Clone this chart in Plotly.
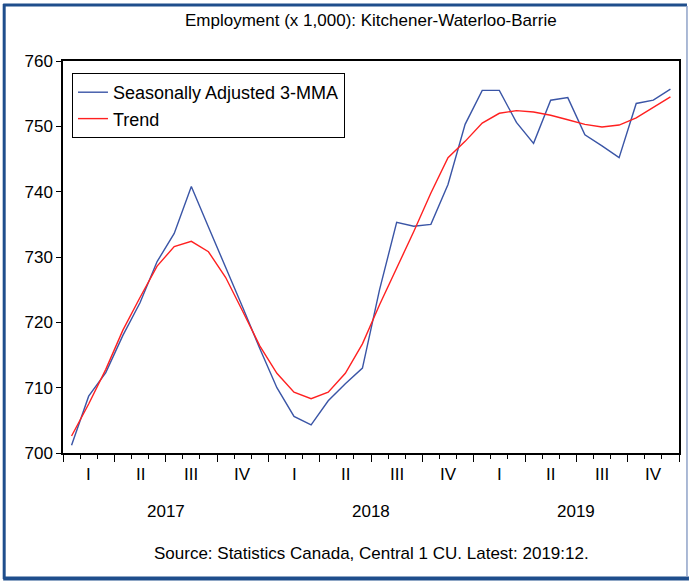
import plotly.graph_objects as go

# monthly data, 2017:01 - 2019:12 (x 1,000)
months = list(range(36))
sa_3mma = [701.2, 708.7, 712.3, 718.0, 723.0, 729.3, 733.6, 740.8, 734.6, 728.5,
           722.3, 716.0, 710.0, 705.6, 704.3, 708.0, 710.6, 713.0, 725.0, 735.3,
           734.7, 735.0, 741.1, 750.3, 755.5, 755.5, 750.6, 747.4, 754.0, 754.4,
           748.7, 747.0, 745.2, 753.5, 754.0, 755.7]
trend = [702.6, 707.5, 712.8, 718.8, 723.8, 728.6, 731.6, 732.4, 730.8, 726.9,
         721.7, 716.4, 712.2, 709.3, 708.3, 709.3, 712.2, 716.7, 722.7, 728.3,
         733.9, 739.8, 745.2, 747.7, 750.5, 752.0, 752.4, 752.2, 751.7, 751.0,
         750.3, 749.9, 750.2, 751.3, 752.9, 754.5]

quarter_labels = ['I', 'II', 'III', 'IV'] * 3
quarter_pos = [1.5 + 3 * i for i in range(12)]
year_labels = ['2017', '2018', '2019']
year_pos = [6, 18, 30]

W, H = 691, 581
ML, MR, MT, MB = 63, 10, 61, 128
PW, PH = W - ML - MR, H - MT - MB

font = 'Liberation Sans, Arial, sans-serif'
x_mid = [m + 0.5 for m in months]


# pixel -> paper coordinates
def px_x(v):
    return (v - ML) / PW


def px_y(v):
    return ((MT + PH) - v) / PH


fig = go.Figure()
fig.add_trace(go.Scatter(x=x_mid, y=sa_3mma, mode='lines', name='Seasonally Adjusted 3-MMA',
                         line=dict(color='#3A55A6', width=1.4)))
fig.add_trace(go.Scatter(x=x_mid, y=trend, mode='lines', name='Trend',
                         line=dict(color='#FF2020', width=1.4)))

fig.update_xaxes(range=[0, 36], tickvals=list(range(0, 37, 3)), showticklabels=False,
                 ticks='outside', ticklen=7, tickcolor='black', showgrid=False, zeroline=False,
                 showline=True, linecolor='black', linewidth=1.5, mirror=True,
                 minor=dict(tickvals=list(range(37)), ticks='outside', ticklen=4, tickcolor='black'))
fig.update_yaxes(range=[700, 760], tickvals=list(range(700, 761, 10)), ticks='outside', ticklen=5,
                 tickcolor='black', showgrid=False, zeroline=False,
                 showline=True, linecolor='black', linewidth=1.5, mirror=True,
                 tickfont=dict(size=17, color='black', family=font))

annotations = []
for q, p in zip(quarter_labels, quarter_pos):
    annotations.append(dict(x=p, y=px_y(475), xref='x', yref='paper', text=q,
                            showarrow=False, yanchor='middle', font=dict(size=17)))
for yl, p in zip(year_labels, year_pos):
    annotations.append(dict(x=p, y=px_y(511), xref='x', yref='paper', text=yl,
                            showarrow=False, yanchor='middle', font=dict(size=17)))
annotations.append(dict(x=0.5, y=px_y(553), xref='paper', yref='paper',
                        text='Source: Statistics Canada, Central 1 CU. Latest: 2019:12.',
                        showarrow=False, yanchor='middle', font=dict(size=17)))
annotations.append(dict(x=0.5, y=px_y(20), xref='paper', yref='paper',
                        text='Employment (x 1,000): Kitchener-Waterloo-Barrie',
                        showarrow=False, yanchor='middle', font=dict(size=17)))

# outer frame around the whole picture
shapes = [
    dict(type='line', xref='paper', yref='paper', x0=px_x(4), x1=px_x(4), y0=px_y(4), y1=px_y(579),
         line=dict(color='#1F4E8C', width=3)),
    dict(type='line', xref='paper', yref='paper', x0=px_x(3), x1=px_x(689), y0=px_y(5), y1=px_y(5),
         line=dict(color='#1F4E8C', width=3)),
    dict(type='line', xref='paper', yref='paper', x0=px_x(3), x1=px_x(691), y0=px_y(578.5), y1=px_y(578.5),
         line=dict(color='#1F4E8C', width=4)),
    dict(type='line', xref='paper', yref='paper', x0=px_x(689), x1=px_x(689), y0=px_y(6), y1=px_y(577),
         line=dict(color='#8FA3C8', width=1.5)),
]

fig.update_layout(
    width=W, height=H,
    margin=dict(l=ML, r=MR, t=MT, b=MB),
    plot_bgcolor='white', paper_bgcolor='white',
    font=dict(family=font, color='black', size=16),
    showlegend=True,
    legend=dict(x=px_x(72), y=px_y(73), xanchor='left', yanchor='top',
                bgcolor='white', bordercolor='black', borderwidth=1,
                font=dict(size=18), tracegroupgap=0, itemwidth=30),
    annotations=annotations,
    shapes=shapes,
)

fig.write_html("out.html", config={'displayModeBar': False},
               post_script="document.body.style.margin='0';")
